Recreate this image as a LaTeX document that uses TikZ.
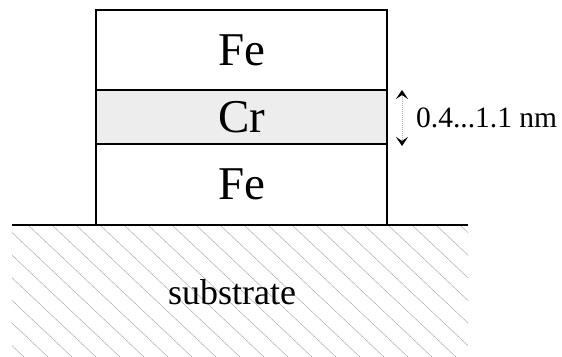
\documentclass[tikz,border=0pt]{standalone}
\usepackage{fontspec}
\setmainfont{Liberation Serif}
\usetikzlibrary{arrows.meta,positioning}

\begin{document}
\begin{tikzpicture}[x=1pt,y=1pt,node distance=0pt,>={Stealth[length=9pt,width=12pt,inset=4pt,color=black]},
  layer/.style={draw,line width=1.2pt,minimum width=291pt,inner sep=0pt,outer sep=0pt,font=\fontsize{47}{47}\selectfont}]
\useasboundingbox (0,0) rectangle (562,356);
% layer stack
\node[layer,minimum height=80pt] (fetop) at (241.5,306) {Fe};
\node[layer,fill=gray!14,minimum height=54pt,below=of fetop] (cr) {Cr};
\node[layer,minimum height=81pt,below=of cr] (febot) {Fe};
% substrate
\coordinate (gl) at (12,131);
\coordinate (gr) at (468,131);
\begin{scope}
\clip (gl) rectangle (468,0);
\foreach \c in {-140,-116,...,468} \draw[gray!75,line width=0.4pt] (\c,131) -- ++(140,-132);
\end{scope}
\draw[line width=1.2pt] (gl) -- (gr);
\node[font=\fontsize{36}{36}\selectfont] (sub) at (232,64) {substrate};
% thickness of the spacer
\coordinate (atop) at (402,266);
\coordinate (abot) at (402,210);
\draw[<->,gray!60,densely dotted,line width=1pt] (atop) -- (abot);
\node[anchor=west,inner sep=0pt,font=\fontsize{29.5}{29.5}\selectfont] (gap) at (416,238) {0.4...1.1 nm};
\end{tikzpicture}
\end{document}
